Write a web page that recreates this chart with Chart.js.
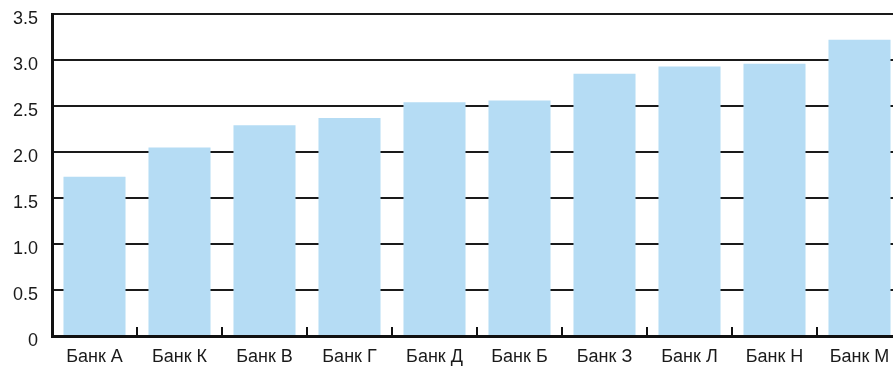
<!DOCTYPE html>
<html>
<head>
<meta charset="utf-8">
<script src="https://cdn.jsdelivr.net/npm/chart.js@4/dist/chart.umd.min.js"></script>
<style>
  html, body { margin: 0; padding: 0; background: #fff; overflow: hidden; }
  #wrap { width: 893px; height: 367px; overflow: hidden; position: relative; }
  canvas { display: block; }
</style>
</head>
<body>
<div id="wrap"><canvas id="c" width="910" height="367"></canvas></div>
<script>
const categories = ['Банк А', 'Банк К', 'Банк В', 'Банк Г', 'Банк Д', 'Банк Б', 'Банк З', 'Банк Л', 'Банк Н', 'Банк М'];
const values = [1.73, 2.05, 2.29, 2.37, 2.54, 2.56, 2.85, 2.93, 2.96, 3.22];
const yTickLabels = ['0', '0.5', '1.0', '1.5', '2.0', '2.5', '3.0', '3.5'];

const boundaryTicks = {
  id: 'boundaryTicks',
  afterDatasetsDraw(chart) {
    const xs = chart.scales.x;
    const bottom = chart.chartArea.bottom;
    const ctx = chart.ctx;
    ctx.save();
    ctx.strokeStyle = '#111';
    ctx.lineWidth = 2;
    for (let i = 1; i < categories.length; i++) {
      const x = Math.round((xs.getPixelForValue(i - 1) + xs.getPixelForValue(i)) / 2);
      ctx.beginPath();
      ctx.moveTo(x, bottom);
      ctx.lineTo(x, bottom - 9);
      ctx.stroke();
    }
    ctx.restore();
  }
};

new Chart(document.getElementById('c'), {
  type: 'bar',
  data: {
    labels: categories,
    datasets: [{
      data: values,
      backgroundColor: '#b5dcf4',
      borderWidth: 0,
      barPercentage: 0.73,
      categoryPercentage: 1.0
    }]
  },
  options: {
    responsive: false,
    animation: false,
    devicePixelRatio: 1,
    layout: { padding: { top: 0, right: 8, left: 0, bottom: 0 } },
    plugins: { legend: { display: false }, tooltip: { enabled: false } },
    scales: {
      x: {
        grid: { display: false, drawTicks: false },
        border: { display: true, color: '#111', width: 3 },
        ticks: {
          color: '#1a1a1a',
          padding: 10,
          maxRotation: 0,
          autoSkip: false,
          font: { family: 'Liberation Sans, Arial, sans-serif', size: 18 }
        },
        afterFit(scale) { scale.height = 31; }
      },
      y: {
        min: 0,
        max: 3.5,
        grid: { color: '#1a1a1a', lineWidth: 2, drawTicks: false },
        border: { display: true, color: '#111', width: 3 },
        ticks: {
          stepSize: 0.5,
          color: '#1a1a1a',
          padding: 14,
          labelOffset: 5,
          font: { family: 'Liberation Sans, Arial, sans-serif', size: 18 },
          callback: (v, i) => yTickLabels[i]
        },
        afterFit(scale) { scale.width = 52; scale.paddingTop = 14; scale.paddingBottom = 0; }
      }
    }
  },
  plugins: [boundaryTicks]
});
</script>
</body>
</html>
